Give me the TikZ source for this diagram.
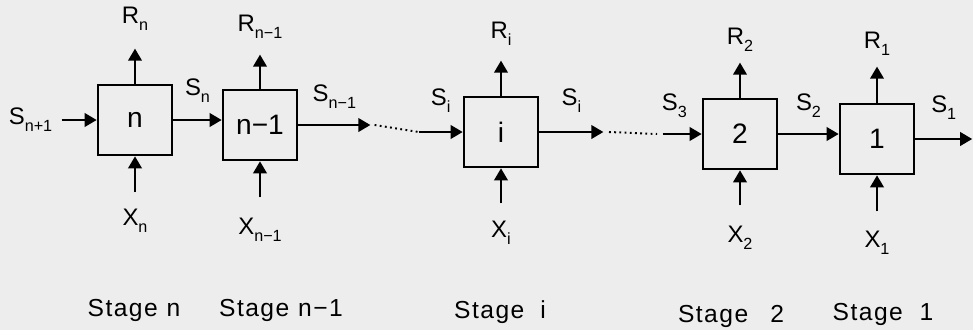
\documentclass[tikz,border=0pt]{standalone}
\usepackage{fontspec}
\setmainfont{Liberation Sans}
\newfontfamily\stagefont[LetterSpace=6]{Liberation Sans}
\usetikzlibrary{arrows.meta,positioning}
\newcommand{\lsub}[1]{\raisebox{-5pt}{\fontsize{11.5}{12}\selectfont #1}}

\begin{document}
\begin{tikzpicture}[x=0.025cm,y=-0.025cm,
    stagebox/.style={draw, line width=1.9pt, minimum width=1.85cm, minimum height=1.75cm, font=\fontsize{20}{24}\selectfont},
    flow/.style={line width=1.4pt, -{Triangle[length=0.3cm,width=0.34cm]}},
    dots/.style={line width=1.4pt, dash pattern=on 1.3pt off 2.4pt},
    lbl/.style={inner sep=1pt, font=\fontsize{17}{20}\selectfont},
    stagelbl/.style={font=\stagefont\fontsize{17.5}{20}\selectfont}]
  \fill[black!7] (0,0) rectangle (973,330);
  \useasboundingbox (0,0) rectangle (973,330);

  % the five stages
  \node[stagebox] (bn) at (135,120) {n};
  \node[stagebox] (bn1) at (260,125) {n−1};
  \node[stagebox] (bi) at (501,132) {i};
  \node[stagebox] (b2) at (740,134) {2};
  \node[stagebox] (b1) at (877,139) {1};

  % returns R and decisions X
  \coordinate[above=0.875cm of bn.north] (rn);
  \coordinate[above=0.85cm of bn1.north] (rn1);
  \coordinate[above=0.875cm of bi.north] (ri);
  \coordinate[above=0.875cm of b2.north] (r2);
  \coordinate[above=0.9cm of b1.north] (r1);
  \draw[flow] (bn.north) -- (rn) node[lbl, above=11pt] {R\lsub{n}};
  \draw[flow] (bn1.north) -- (rn1) node[lbl, above=10pt] {R\lsub{n−1}};
  \draw[flow] (bi.north) -- (ri) node[lbl, above=9pt] {R\lsub{i}};
  \draw[flow] (b2.north) -- (r2) node[lbl, above=6pt] {R\lsub{2}};
  \draw[flow] (b1.north) -- (r1) node[lbl, above=6pt] {R\lsub{1}};

  \coordinate[below=0.9cm of bn.south] (xn);
  \coordinate[below=0.9cm of bn1.south] (xn1);
  \coordinate[below=0.875cm of bi.south] (xi);
  \coordinate[below=0.875cm of b2.south] (x2);
  \coordinate[below=0.9cm of b1.south] (x1);
  \draw[flow] (xn) node[lbl, below=10pt] {X\lsub{n}} -- (bn.south);
  \draw[flow] (xn1) node[lbl, below=13pt] {X\lsub{n−1}} -- (bn1.south);
  \draw[flow] (xi) node[lbl, below=11pt] {X\lsub{i}} -- (bi.south);
  \draw[flow] (x2) node[lbl, below=13pt] {X\lsub{2}} -- (b2.south);
  \draw[flow] (x1) node[lbl, below=12pt] {X\lsub{1}} -- (b1.south);

  % states S
  \coordinate[left=0.875cm of bn.west] (sin);
  \draw[flow] (sin) node[lbl, left=5pt] {S\lsub{n+1}} -- (bn.west);
  \draw[flow] (bn.east) -- (bn.east -| bn1.west) node[lbl, midway, above=11pt] {S\lsub{n}};
  \coordinate[right=1.8cm of bn1.east] (d1);
  \coordinate[left=1.1cm of bi.west] (d2);
  \draw[flow] (bn1.east) -- (d1) node[lbl, midway, above=10pt] {S\lsub{n−1}};
  \draw[dots] ([xshift=3pt]d1) -- (d2);
  \draw[flow] (d2) -- (bi.west) node[lbl, midway, above=12pt] {S\lsub{i}};
  \coordinate[right=1.6cm of bi.east] (d3);
  \coordinate[left=0.975cm of b2.west] (d4);
  \draw[flow] (bi.east) -- (d3) node[lbl, midway, above=12pt] {S\lsub{i}};
  \draw[dots] ([xshift=4pt]d3) -- ([xshift=-4pt]d4);
  \draw[flow] (d4) -- (b2.west) node[lbl, pos=0.3, above=10pt] {S\lsub{3}};
  \draw[flow] (b2.east) -- (b2.east -| b1.west) node[lbl, midway, above=10pt] {S\lsub{2}};
  \coordinate[right=1.42cm of b1.east] (sout);
  \draw[flow] (b1.east) -- (sout) node[lbl, midway, above=12pt] {S\lsub{1}};

  % stage names
  \node[stagelbl] (tn) at (134,310) {Stage\hspace{0.22cm}n};
  \node[stagelbl] (tn1) at (281,310) {Stage\hspace{0.22cm}n−1};
  \node[stagelbl] (ti) at (500,312) {Stage\hspace{0.4cm}i};
  \node[stagelbl] (t2) at (731,316) {Stage\hspace{0.55cm}2};
  \node[stagelbl] (t1) at (883,314) {Stage\hspace{0.42cm}1};
\end{tikzpicture}
\end{document}
